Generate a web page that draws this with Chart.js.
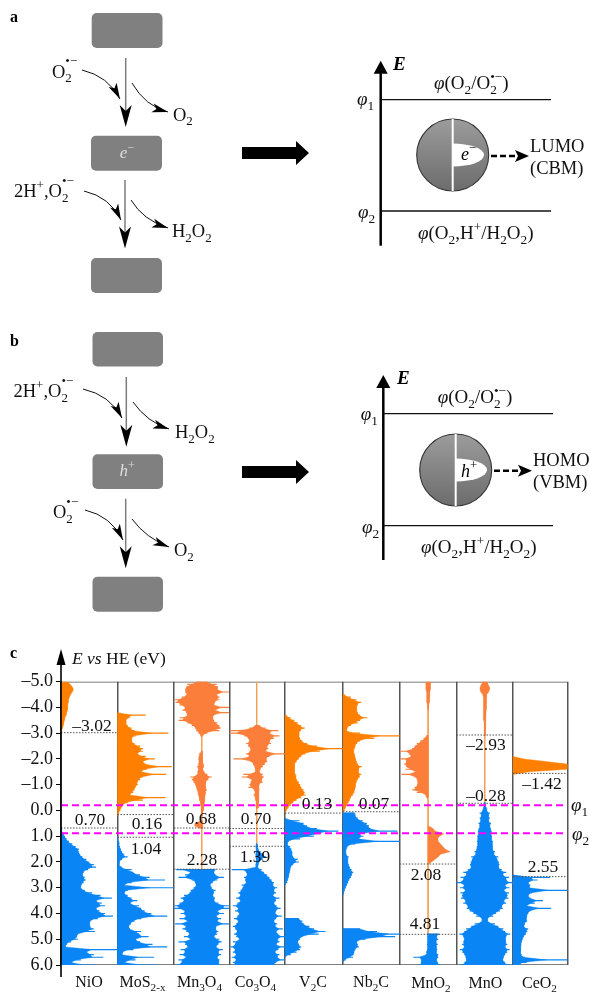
<!DOCTYPE html>
<html><head><meta charset="utf-8">
<style>html,body{margin:0;padding:0;background:#fff}canvas{display:block}</style>
<script src="https://cdn.jsdelivr.net/npm/chart.js@4"></script>
</head><body><canvas id="c" width="590" height="992"></canvas>
<script>
// ---- categories and tick values ----
const PANELS = ['NiO','MoS_{2-x}','Mn_{3}O_{4}','Co_{3}O_{4}','V_{2}C','Nb_{2}C','MnO_{2}','MnO','CeO_{2}'];
const PANEL_EDGES = [0,1,2,2.982,3.965,4.991,5.995,7,8,8.965];
const E_TICKS = [-5,-4,-3,-2,-1,0,1,2,3,4,5,6];
const PHI1 = -0.2, PHI2 = 0.88;

// ---- density of states: % of panel width, every 0.1 eV ----
const NiO_orange = [12,16,20,22,20,17,15,13,13,12,12,11,10,9,7,6,5,4,3,1,0];
const NiO_blue = [0,2,5,7,10,14,20,26,32,31,34,38,45,50,58,62,48,40,38,42,44,40,36,35,42,55,70,90,62,72,78,62,68,78,92,65,52,50,52,58,60,30,28,30,18,10,8,100,45,58,75,35,18,60];
const MoS2_orange = [0,50,22,15,15,18,25,30,90,32,25,25,30,40,45,45,35,50,66,45,50,96,52,42,86,45,40,35,36,32,30,28,22,85,45,18,10,7,5,3,0];
const MoS2_blue = [0,1,2,3,4,6,8,12,18,8,4,3,8,25,28,40,57,84,25,12,100,18,12,18,25,35,22,38,42,48,60,88,42,30,24,20,22,42,38,55,32,40,62,88,28,10,8,65,32,12,70];
const Mn3O4_orange1_L = [41,24,22,20,20,23,14,1,3,10,20,15,22,25,10,8,24,32,38,40,44,48];
const Mn3O4_orange1_R = [59,77,79,78,99,77,82,82,74,72,99,74,99,72,70,72,78,82,84,82,60,52];
const Mn3O4_orange2_L = [49,45,45,44,45,44,42,44,42,42,29,32,35,38,40,41,43,44,45,46,47,48,49,49,49,49];
const Mn3O4_orange2_R = [51,51,51,52,52,53,54,52,55,60,68,62,58,56,58,59,57,56,56,55,55,54,54,53,52,51];
const Mn3O4_orange3_L = [48,38,37,48];
const Mn3O4_orange3_R = [51,52,52,51];
const Mn3O4_blue_L = [4,30,20,8,32,38,40,35,30,28,18,12,18,10,1,0,20,12,22,10,25,2,22,15,22,28,18,30,8,20,25,12,20,10,22,8,14,3];
const Mn3O4_blue_R = [75,72,75,90,78,70,65,68,75,72,70,74,72,80,99,99,78,90,76,85,78,99,76,75,80,78,72,82,86,80,76,88,80,85,78,82,80,82];
const Co3O4_orange_L = [46,36,2,0,27,33,36,30,33,38,36,30,36,7,38,42,45,46,47,25,22,40,38,36,34,44,46,43,46,47,48,47,48];
const Co3O4_orange_R = [54,65,88,72,90,80,72,75,68,70,65,100,72,66,68,64,60,56,54,60,62,58,60,54,52,54,53,53,52,53,52,53,52];
const Co3O4_blue_L = [48,47,48,48,47,47,48,48,47,47,4,30,32,26,28,30,22,24,20,16,20,12,20,14,6,16,10,18,14,8,16,12,6,10,14,8,12,18,6,10,2,10,6,12,4,12,6,10];
const Co3O4_blue_R = [50,51,52,56,62,66,60,54,52,51,58,62,68,72,76,80,78,86,80,84,78,90,84,80,85,92,84,82,94,84,80,86,82,96,84,88,100,86,90,84,100,88,82,90,86,100,84,80];
const V2C_orange = [2,10,16,22,28,34,27,24,24,26,30,38,55,100,60,35,28,24,20,17,16,16,17,18,19,20,24,26,28,32,34,36,28,20,14,10,6,3,0];
const V2C_blue1 = [0,25,32,38,55,92,60,50,26,6,4,9,11,12,12,14,22,24,14,10,9,8,7,6,5,4,0];
const V2C_blue2 = [24,30,32,42,50,70,58,30,26,22,24,28,26,20,10,0];
const Nb2C_orange = [2,14,24,32,26,24,24,26,30,43,30,26,14,8,6,30,100,55,30,25,22,20,19,20,21,23,24,26,33,28,27,32,30,26,24,22,22,21,20,18,14,12,10,7,5,3,0];
const Nb2C_blue1 = [20,22,26,35,42,46,48,96,30,36,28,100,22,8,6,5,6,10,8,9,10,12,15,18,16,14,11,9,7,5,3,2,0];
const Nb2C_blue2 = [30,60,100,92,40,24,26,28,22,20,18,18,5,0];
const MnO2_orange1_L = [46,46,46,46,47,47,47.5,48,48,49,49,50];
const MnO2_orange1_R = [54,54,54,54,53,53,52.5,52,52,51,51,50];
const MnO2_orange2_L = [47,42,36,30,26,22,1,16,20,1,12,8,12,10,28,3,26,30,32,31,26,22,30,45,48];
const MnO2_orange3_R = [51,59,62,78,70,67,68,72,76,80,89,72,68,62,56,50];
const MnO2_blue_L = [48,49,49,49,48,49,48,47,46,24,38,38,35];
const MnO2_blue_R = [70,65,68,64,67,64,66,64,68,68,65,67,72];
const MnO_orange_half = [5,6,8,8.5,7,3.5,3,2.8,2.8,2.5,2.5,2.3,2.2,2,1.8,1.5,1.2,1,1,0.8,0.6,0.5];
const MnO_blue_half = [1,2,3,4,9,6,9,7,11,9,11,12,11,13,12,14,13,14,14,18,16,24,22,25,26,24,30,38,32,43,38,50,36,44,34,43,40,42,34,38,30,32,27,20,15,5,5,18,24,33,36,45,38,36,38,40,36,44,40,36,34,32,36,44];
const CeO2_orange = [0,20,60,100,100,100,30,0];
const CeO2_blue = [0,68,45,28,32,30,100,35,28,32,55,40,25,70,32,28,26,24,26,22,20,28,26,24,20,18,16,15,14,14,13,16,22,100,25,10];

// ---- gaps: panel, level in eV, printed value ----
const GAP_PANEL = [0,0,1,1,2,2,3,3,4,5,6,6,7,7,8,8];
const GAP_LEVEL = [-3.02,0.68,0.16,1.04,0.68,2.28,0.70,1.39,0.10,0.05,2.08,4.81,-2.93,-0.28,-1.44,2.57];
const GAP_TEXT = ['–3.02','0.70','0.16','1.04','0.68','2.28','0.70','1.39','0.13','0.07','2.08','4.81','–2.93','–0.28','–1.42','2.55'];

// ---- styling / layout ----
const ORANGE='#ff8000', CORAL='#fb7f3a', BLUE='#0a85f5', THIN='#f5a055', FRAME='#555';
const SERIF='"Liberation Serif","Times New Roman",serif';
const GAP_LABEL_XY = [[92,731],[90,825],[147,829],[146,854],[201,824],[202,865],[256,824],[255,862],[317,809],[374,809],[426,880],[425,929],[486,750],[486,801],[542,789],[543,872]];
const PANEL_LABEL_X = [89,142.5,199.5,255.5,313,371,431,485.5,539.5];

// one row per filled band: panel, colour, first eV, right edge (%), left edge (%, default 0), comb flag
const BANDS = [
 [0,ORANGE,-5.0,NiO_orange,null,false],[0,BLUE,0.7,NiO_blue,null,true],
 [1,ORANGE,-3.8,MoS2_orange,null,true],[1,BLUE,1.0,MoS2_blue,null,true],
 [2,CORAL,-5.0,Mn3O4_orange1_R,Mn3O4_orange1_L,true],[2,CORAL,-2.3,Mn3O4_orange2_R,Mn3O4_orange2_L,true],[2,CORAL,0.4,Mn3O4_orange3_R,Mn3O4_orange3_L,false],[2,BLUE,2.3,Mn3O4_blue_R,Mn3O4_blue_L,true],
 [3,CORAL,-3.3,Co3O4_orange_R,Co3O4_orange_L,true],[3,BLUE,1.3,Co3O4_blue_R,Co3O4_blue_L,true],
 [4,ORANGE,-3.7,V2C_orange,null,true],[4,BLUE,0.3,V2C_blue1,null,true],[4,BLUE,4.2,V2C_blue2,null,true],
 [5,ORANGE,-4.5,Nb2C_orange,null,true],[5,BLUE,0.1,Nb2C_blue1,null,true],[5,BLUE,4.6,Nb2C_blue2,null,true],
 [6,CORAL,-5.0,MnO2_orange1_R,MnO2_orange1_L,false],[6,CORAL,-2.9,MnO2_orange2_L.map(()=>50),MnO2_orange2_L,true],[6,CORAL,0.6,MnO2_orange3_R,MnO2_orange3_R.map(()=>50),false],[6,BLUE,4.8,MnO2_blue_R,MnO2_blue_L,true],
 [7,CORAL,-5.0,MnO_orange_half.map(h=>50+h),MnO_orange_half.map(h=>50-h),false],[7,BLUE,-0.3,MnO_blue_half.map(h=>50+h),MnO_blue_half.map(h=>50-h),true],
 [8,ORANGE,-2.1,CeO2_orange,null,false],[8,BLUE,2.5,CeO2_blue,null,true],
];
// thin centre lines: panel, position %, from eV, to eV
const THIN_LINES = [[2,50,-2.9,2.3],[3,49,-5,1.3],[6,50,-5,4.8],[7,50,-5,-0.3]];

const px=(p,f)=>PANEL_EDGES[p]+f/100*(PANEL_EDGES[p+1]-PANEL_EDGES[p]);
const lineDs=(pts,color,width,dash,order)=>({type:'scatter',data:pts,showLine:true,pointRadius:0,borderColor:color,borderWidth:width,borderDash:dash||[],order,fill:false,tension:0,spanGaps:false});
const datasets=[];
datasets.push(lineDs([{x:0,y:PHI1},{x:8.965,y:PHI1}],'#f0f',2,[7,4],0));
datasets.push(lineDs([{x:0,y:PHI2},{x:8.965,y:PHI2}],'#f0f',2,[7,4],0));
GAP_LEVEL.forEach((lv,i)=>{const p=GAP_PANEL[i];datasets.push(lineDs([{x:PANEL_EDGES[p],y:lv},{x:PANEL_EDGES[p+1],y:lv}],'#555',1,[1.5,1.5],1));});
THIN_LINES.forEach(t=>datasets.push(lineDs([{x:px(t[0],t[1]),y:t[2]},{x:px(t[0],t[1]),y:t[3]}],THIN,1,[],3)));
BANDS.forEach(b=>{
  const [p,color,e0,R,Lin,comb]=b;const L=Lin||R.map(()=>0);
  const eAt=i=>+(e0+i*0.1).toFixed(2);
  // body: where comb is set, the solid part tapers halfway towards the value;
  // a thin tooth at each sampled energy then carries the value itself.
  const pick=(arr,i,fn)=>comb?(fn(arr[Math.max(i-1,0)],arr[i],arr[Math.min(i+1,arr.length-1)])+arr[i])/2:arr[i];
  const pts=[];
  R.forEach((v,i)=>pts.push({x:px(p,pick(R,i,Math.min)),y:eAt(i)}));
  for(let i=R.length-1;i>=0;i--)pts.push({x:px(p,pick(L,i,Math.max)),y:eAt(i)});
  pts.push({x:pts[0].x,y:pts[0].y});
  datasets.push({type:'scatter',data:pts,showLine:true,pointRadius:0,borderWidth:0.4,borderColor:color,backgroundColor:color,fill:'shape',tension:0,order:2});
  if(comb){
    const teeth=[];
    R.forEach((v,i)=>{teeth.push({x:px(p,L[i]),y:eAt(i)},{x:px(p,v),y:eAt(i)},{x:null,y:null});});
    datasets.push(lineDs(teeth,color,1.2,[],2));
  }
});
datasets.push(lineDs([{x:0,y:-5},{x:8.965,y:-5}],FRAME,1.5,[],4));
datasets.push(lineDs([{x:0,y:6},{x:8.965,y:6}],FRAME,1.5,[],4));

// ---- rich text helper: _{sub} ^{sup} ^^{raised sup} *italic* ----
function rich(ctx,str,x,y,size,opt){
  opt=opt||{};const col=opt.color||'#111';const base=(opt.bold?'bold ':'');
  const toks=str.match(/_\{[^}]*\}|\^\^\{[^}]*\}|\^\{[^}]*\}|\*[^*]*\*|[^_^*]+/g)||[];
  const inner=t=>t.slice(t.indexOf('{')+1,-1);
  const isS=t=>t[0]==='_'||t[0]==='^';
  ctx.save();ctx.fillStyle=col;ctx.textBaseline='alphabetic';ctx.textAlign='left';
  const measure=()=>{let w=0;let last=0;toks.forEach(t=>{
    if(isS(t)){ctx.font=`${size*0.7}px ${SERIF}`;const m=ctx.measureText(inner(t)).width;
      if(last>0){w+=Math.max(m-last,0);last=0;}else{w+=m;last=m;}}
    else{last=0;ctx.font=(t[0]==='*'?'italic ':'')+base+`${size}px ${SERIF}`;w+=ctx.measureText(t.replace(/\*/g,'')).width;}
  });return w;};
  if(opt.center)x-=measure()/2;
  let last=0;
  toks.forEach(t=>{
    if(isS(t)){
      ctx.font=`${size*0.7}px ${SERIF}`;const s=inner(t);const m=ctx.measureText(s).width;
      const dy=t[0]==='_'?size*0.26:(t[1]==='^'?-size*0.66:-size*0.42);
      if(last>0){ctx.fillText(s,x-last,y+dy);x+=Math.max(m-last,0);last=0;}
      else{ctx.fillText(s,x,y+dy);x+=m;last=m;}
    }else{
      last=0;const it=t[0]==='*';const s=t.replace(/\*/g,'');
      ctx.font=(it?'italic ':'')+base+`${size}px ${SERIF}`;ctx.fillText(s,x,y);x+=ctx.measureText(s).width;
    }
  });
  ctx.restore();
}
function head(ctx,x,y,ang,len,hw,notch,col){
  ctx.save();ctx.translate(x,y);ctx.rotate(ang);ctx.fillStyle=col||'#000';ctx.beginPath();
  ctx.moveTo(0,0);ctx.lineTo(-len,-hw);ctx.lineTo(-len+notch,0);ctx.lineTo(-len,hw);ctx.closePath();ctx.fill();ctx.restore();
}
function vArrow(ctx,x,y0,y1){
  ctx.strokeStyle='#7d7d7d';ctx.lineWidth=1.5;ctx.beginPath();ctx.moveTo(x,y0);ctx.lineTo(x,y1-12);ctx.stroke();
  head(ctx,x,y1,Math.PI/2,22,6,6);
}
function curve(ctx,x0,y0,cx,cy,x1,y1){
  ctx.strokeStyle='#111';ctx.lineWidth=1;ctx.beginPath();ctx.moveTo(x0,y0);ctx.quadraticCurveTo(cx,cy,x1,y1);ctx.stroke();
  head(ctx,x1,y1,Math.atan2(y1-cy,x1-cx),16,4.5,4);
}
function box(ctx,x,y,w,h){ctx.fillStyle='#808080';ctx.beginPath();ctx.roundRect(x,y,w,h,5);ctx.fill();}
function bigArrow(ctx,x0,yc){
  ctx.fillStyle='#000';ctx.beginPath();ctx.moveTo(x0,yc-6);ctx.lineTo(x0+54,yc-6);ctx.lineTo(x0+54,yc-12);ctx.lineTo(x0+67,yc);ctx.lineTo(x0+54,yc+12);ctx.lineTo(x0+54,yc+6);ctx.lineTo(x0,yc+6);ctx.closePath();ctx.fill();
}
function energy(ctx,ax,top,bot,y1,y2,xEnd,cx,cy,tipX,arrX0,arrX1,arrY,carrier,carrierX,carrierY,t1,t2,tx,d){
  ctx.strokeStyle='#000';ctx.lineWidth=2.5;ctx.beginPath();ctx.moveTo(ax,bot);ctx.lineTo(ax,top+10);ctx.stroke();
  ctx.fillStyle='#000';ctx.beginPath();ctx.moveTo(ax,top);ctx.lineTo(ax-7,top+13);ctx.lineTo(ax+7,top+13);ctx.closePath();ctx.fill();
  ctx.lineWidth=1.3;ctx.strokeStyle='#111';
  [y1,y2].forEach(y=>{ctx.beginPath();ctx.moveTo(ax,y);ctx.lineTo(xEnd,y);ctx.stroke();});
  const g=ctx.createLinearGradient(0,cy-36,0,cy+36);g.addColorStop(0,'#9c9c9c');g.addColorStop(1,'#6c6c6c');
  ctx.fillStyle=g;ctx.beginPath();ctx.arc(cx,cy,36,0,Math.PI*2);ctx.fill();ctx.strokeStyle='#333';ctx.lineWidth=1.1;ctx.stroke();
  ctx.strokeStyle='#fff';ctx.lineWidth=2;ctx.beginPath();ctx.moveTo(cx,cy-36);ctx.lineTo(cx,cy+36);ctx.stroke();
  ctx.fillStyle='#fff';ctx.beginPath();ctx.ellipse(cx,cy,tipX-cx,11.5,0,-Math.PI/2,Math.PI/2);ctx.closePath();ctx.fill();
  rich(ctx,carrier,carrierX,carrierY,18,{color:'#000'});
  ctx.strokeStyle='#000';ctx.lineWidth=2.4;ctx.setLineDash([6,3]);ctx.beginPath();ctx.moveTo(arrX0,arrY);ctx.lineTo(arrX1-8,arrY);ctx.stroke();ctx.setLineDash([]);
  head(ctx,arrX1,arrY,0,14,6,3);
  rich(ctx,t1,tx,arrY-4.5,18.5);rich(ctx,t2,tx,arrY+17.5,18.5);
  rich(ctx,'*E*',d.ex,d.ey,19,{bold:true,color:'#000'});
  rich(ctx,'*φ*(O_{2}/O_{2}^{•−})',d.t1x,d.t1y,19);
  rich(ctx,'*φ*_{1}',d.p1x,d.p1y,19);rich(ctx,'*φ*_{2}',d.p2x,d.p2y,19);
  rich(ctx,'*φ*(O_{2},H^{+}/H_{2}O_{2})',d.t2x,d.t2y,19);
}

const schematic={id:'schematic',afterDraw(chart){
  const ctx=chart.ctx;ctx.save();
  // panel a
  rich(ctx,'a',10,22,16,{bold:true,color:'#000'});
  box(ctx,91.7,13,70.8,35);box(ctx,91,135.7,71,35);box(ctx,91,258,71,35);
  vArrow(ctx,125.7,58,127);vArrow(ctx,125,180,248.5);
  curve(ctx,82,70,108,76,120,99);curve(ctx,132,83,145,106,168,112);
  curve(ctx,84,191,110,197,121,220);curve(ctx,131,200,143,220,168,228);
  rich(ctx,'O_{2}^^{•−}',52,77.5,18.5);rich(ctx,'O_{2}',173,120.5,18.5);
  rich(ctx,'2H^{+},O_{2}^^{•−}',14,197,18.5);rich(ctx,'H_{2}O_{2}',172,237,18.5);
  rich(ctx,'*e*^{−}',127,158,17,{color:'#ddd',center:true});
  bigArrow(ctx,242,153);
  energy(ctx,380.7,60.7,245.7,99.7,211,551,452.7,155,484,491,529,156,'*e*^{−}',461,160,'LUMO','(CBM)',530,
   {ex:393,ey:70,t1x:434,t1y:89,p1x:357,p1y:105,p2x:358,p2y:218,t2x:418,t2y:239});
  // panel b
  rich(ctx,'b',10,346,16,{bold:true,color:'#000'});
  box(ctx,92.5,332,70.5,34.5);box(ctx,92.5,454.3,70.5,34.7);box(ctx,92.5,576.7,70.5,35);
  vArrow(ctx,126.3,377,446.7);vArrow(ctx,125.7,498.7,568.3);
  curve(ctx,83,389,110,395,122,418);curve(ctx,133,402,147,422,169,429);
  curve(ctx,85,510,111,516,123,540);curve(ctx,132,519,146,538,169,547);
  rich(ctx,'2H^{+},O_{2}^^{•−}',13.5,397,18.5);rich(ctx,'H_{2}O_{2}',175,438,18.5);
  rich(ctx,'O_{2}^^{•−}',53,518,18.5);rich(ctx,'O_{2}',174,556,18.5);
  rich(ctx,'*h*^{+}',127,476,17,{color:'#ddd',center:true});
  bigArrow(ctx,242,472);
  energy(ctx,383.3,375,560,413.7,525.7,553,455.7,470,487,494,532,470.7,'*h*^{+}',461,477,'HOMO','(VBM)',533,
   {ex:397,ey:384,t1x:437.7,t1y:403.3,p1x:360.7,p1y:420,p2x:362,p2y:532.7,t2x:421,t2y:553});
  // panel c extras
  rich(ctx,'c',10,658,16,{bold:true,color:'#000'});
  rich(ctx,'*E vs* HE (eV)',72,664,17.5);
  const xs=chart.scales.x,ya=xs.left;
  ctx.strokeStyle='#000';ctx.lineWidth=1.6;ctx.beginPath();ctx.moveTo(ya,977);ctx.lineTo(ya,660);ctx.stroke();
  ctx.fillStyle='#000';ctx.beginPath();ctx.moveTo(ya,649);ctx.lineTo(ya-4.5,665);ctx.lineTo(ya+4.5,665);ctx.closePath();ctx.fill();
  PANELS.forEach((n,i)=>{rich(ctx,n,PANEL_LABEL_X[i],i>=6?988:987,16,{center:true});});
  ctx.font=`17.5px ${SERIF}`;ctx.fillStyle='#111';ctx.textAlign='center';ctx.textBaseline='alphabetic';
  GAP_TEXT.forEach((t,i)=>ctx.fillText(t,GAP_LABEL_XY[i][0],GAP_LABEL_XY[i][1]));
  rich(ctx,'*φ*_{1}',571,811,19);rich(ctx,'*φ*_{2}',572,840,19);
  ctx.restore();
}};

new Chart(document.getElementById('c').getContext('2d'),{
  type:'scatter',
  data:{datasets},
  plugins:[schematic],
  options:{
    responsive:false,animation:false,devicePixelRatio:1,
    layout:{padding:{top:681.7,bottom:27,left:0,right:22.5}},
    plugins:{legend:{display:false},tooltip:{enabled:false},title:{display:false}},
    scales:{
      x:{type:'linear',min:0,max:8.965,
        afterBuildTicks:s=>{s.ticks=PANEL_EDGES.map(v=>({value:v}));},
        afterFit:s=>{s.height=0;},
        ticks:{display:false},border:{display:false},
        grid:{color:FRAME,lineWidth:1.5,drawTicks:false}},
      y:{type:'linear',min:-5,max:6,reverse:true,
        afterBuildTicks:s=>{s.ticks=E_TICKS.map(v=>({value:v}));},
        afterFit:s=>{s.width=61;},
        border:{display:false},
        grid:{drawOnChartArea:false,drawTicks:true,tickLength:5,color:'#000',lineWidth:1},
        ticks:{padding:3,color:'#111',font:{family:SERIF,size:18},autoSkip:false,
          callback:v=>(v<0?'–':'')+Math.abs(v).toFixed(1)}}
    }
  }
});
</script></body></html>
